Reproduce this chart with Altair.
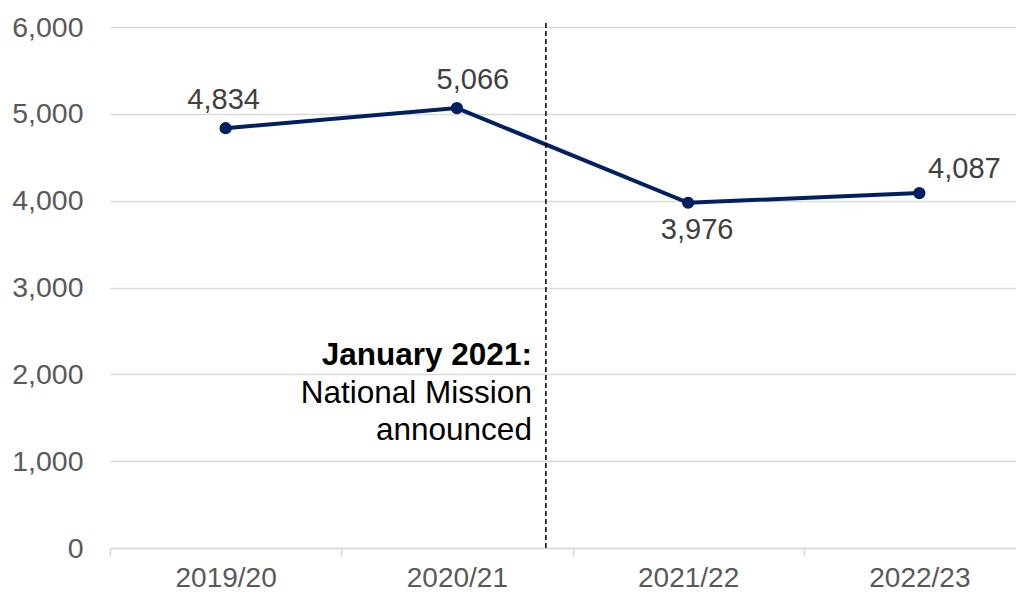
import altair as alt
import pandas as pd

years = ["2019/20", "2020/21", "2021/22", "2022/23"]
values = [4834, 5066, 3976, 4087]

annot_bold = "January 2021:"
annot_lines = ["National Mission", "announced"]

df = pd.DataFrame({"year": years, "value": values})

FONT = "Liberation Sans"
NAVY = "#002060"

x = alt.X("year:N", sort=years, title=None,
          scale=alt.Scale(paddingInner=0, paddingOuter=0),
          axis=alt.Axis(labelAngle=0, labelFontSize=28, labelColor="#595959",
                        labelFont=FONT, domainColor="#d9d9d9", domainWidth=1.5,
                        tickColor="#d9d9d9", tickWidth=1.5, tickSize=8,
                        tickBand="extent", labelPadding=8, grid=False))
yscale = alt.Scale(domain=[0, 6000], nice=False)
yaxis = alt.Axis(values=[0, 1000, 2000, 3000, 4000, 5000, 6000], format=",.0f",
                 labelFontSize=28.5, labelColor="#595959", labelFont=FONT,
                 domain=False, ticks=False, labelPadding=27,
                 gridColor="#d9d9d9", gridWidth=1.5, title=None)
y = alt.Y("value:Q", title=None, scale=yscale, axis=yaxis)

base = alt.Chart(df)

line = base.mark_line(color=NAVY, strokeWidth=4).encode(x=x, y=y)
pts = base.mark_point(color=NAVY, filled=True, opacity=1, size=150).encode(x=x, y=y)

def lab(yr, dx, dy):
    return base.transform_filter(alt.datum.year == yr).mark_text(
        font=FONT, fontSize=29, color="#404040", dx=dx, dy=dy, baseline="alphabetic"
    ).encode(x=x, y=y, text=alt.Text("value:Q", format=","))

labels = (lab("2019/20", -2, -19) + lab("2020/21", 16, -19)
          + lab("2021/22", 9, 36) + lab("2022/23", 45, -15))

rdf = pd.DataFrame({"year": ["2020/21"]})
rx = alt.X("year:N", sort=years, bandPosition=0.885, scale=alt.Scale(paddingInner=0, paddingOuter=0))
rule = alt.Chart(rdf).mark_rule(color="black", strokeWidth=1.5, strokeDash=[5, 3]).encode(
    x=rx,
    y=alt.YDatum(0, type="quantitative", scale=yscale, axis=yaxis),
    y2=alt.Y2Datum(6060))

t1 = alt.Chart(rdf).mark_text(font=FONT, fontSize=31.5, fontWeight="bold", color="black",
                              align="right", baseline="alphabetic", dx=-14).encode(
    x=rx, y=alt.YDatum(2108, type="quantitative", scale=yscale, axis=yaxis),
    text=alt.value(annot_bold))
t2 = alt.Chart(rdf).mark_text(font=FONT, fontSize=31.5, color="black", align="right",
                              baseline="alphabetic", dx=-14, lineHeight=37.5).encode(
    x=rx, y=alt.YDatum(1670, type="quantitative", scale=yscale, axis=yaxis),
    text=alt.value(annot_lines))

chart = alt.layer(line, rule, pts, labels, t1, t2).properties(
    width=925, height=521,
    autosize=alt.AutoSizeParams(type="none"),
    padding={"left": 102, "top": 19, "right": -19, "bottom": 46},
).configure_view(stroke=None)

chart.save("out.html", embed_options={"renderer": "svg", "actions": False})
